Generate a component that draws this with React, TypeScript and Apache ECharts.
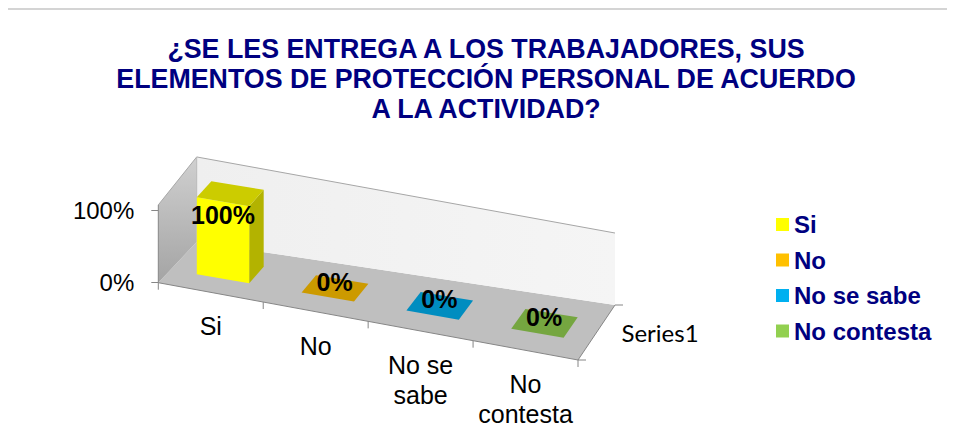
import React, { useEffect, useRef } from 'react';
import * as echarts from 'echarts';

const categories = ['Si', 'No', 'No se sabe', 'No contesta'];
const values = [1, 0, 0, 0];
const colors = ['#FFFF00', '#FFC000', '#00B0F0', '#92D050'];
const depthLabel = 'Series1';
const titleText =
  '¿SE LES ENTREGA A LOS TRABAJADORES, SUS\nELEMENTOS DE PROTECCIÓN PERSONAL DE ACUERDO\nA LA ACTIVIDAD?';
const yMin = 0;
const yMax = 1;
const yInterval = 1;

const FONT = 'Arial, "Liberation Sans", sans-serif';

// oblique / perspective-like projection constants (pixels)
const DXL = 38.4;
const DXR = 37;
const DYL = 40.7;
const DYR = 55;
const SLOPE = 77.3;
const WALL_FL = 1.07;
const WALL_BL = 1.17;
const WALL_BR = 0.99;
const BAR_K = 1.06;
const T0 = 0.32;
const T1 = 0.7;

function proj(cs: any, u: number, t: number, h: number): number[] {
  const x = cs.x + u * cs.width + t * (DXL + (DXR - DXL) * u);
  const y = cs.y + cs.height + u * SLOPE - t * (DYL + (DYR - DYL) * u) - h;
  return [x, y];
}

function shade(hex: string, f: number): string {
  const n = parseInt(hex.slice(1), 16);
  const r = Math.round(((n >> 16) & 255) * f);
  const g = Math.round(((n >> 8) & 255) * f);
  const b = Math.round((n & 255) * f);
  return 'rgb(' + r + ',' + g + ',' + b + ')';
}

function wrapLabel(s: string, max = 6): string {
  const words = s.split(' ');
  const lines: string[] = [];
  let cur = '';
  for (const w of words) {
    if (!cur) cur = w;
    else if ((cur + ' ' + w).length <= max) cur += ' ' + w;
    else {
      lines.push(cur);
      cur = w;
    }
  }
  if (cur) lines.push(cur);
  return lines.join('\n');
}

const AXIS_COLOR = '#868686';

function renderFrame(params: any, api: any) {
  const cs = params.coordSys;
  const H = api.coord([0, 0])[1] - api.coord([0, 1])[1];
  const p = (u: number, t: number, h: number) => proj(cs, u, t, h);
  const children: any[] = [];
  children.push({
    type: 'polygon',
    shape: { points: [p(0, 0, 0), p(1, 0, 0), p(1, 1, 0), p(0, 1, 0)] },
    style: { fill: '#bfbfbf', stroke: null },
  });
  children.push({
    type: 'polygon',
    shape: { points: [p(0, 0, 0), p(0, 0, WALL_FL * H), p(0, 1, WALL_BL * H), p(0, 1, 0)] },
    style: {
      fill: new echarts.graphic.LinearGradient(0, 0, 0, 1, [
        { offset: 0, color: '#d0d0d0' },
        { offset: 1, color: '#a4a4a4' },
      ]),
      stroke: null,
    },
  });
  children.push({
    type: 'polygon',
    shape: { points: [p(0, 1, 0), p(0, 1, WALL_BL * H), p(1, 1, WALL_BR * H), p(1, 1, 0)] },
    style: {
      fill: new echarts.graphic.LinearGradient(0, 0, 1, 0, [
        { offset: 0, color: '#efefef' },
        { offset: 1, color: '#f5f5f5' },
      ]),
      stroke: null,
    },
  });
  const line = (a: number[], b: number[], color: string) => ({
    type: 'line',
    shape: { x1: a[0], y1: a[1], x2: b[0], y2: b[1] },
    style: { stroke: color, lineWidth: 1 },
  });
  children.push(line(p(0, 0, WALL_FL * H), p(0, 1, WALL_BL * H), '#a6a6a6'));
  children.push(line(p(0, 1, WALL_BL * H), p(1, 1, WALL_BR * H), '#a6a6a6'));
  children.push(line(p(0, 1, 0), p(0, 1, WALL_BL * H), '#b8b8b8'));
  children.push(line(p(0, 0, 0), p(0, 0, WALL_FL * H), AXIS_COLOR));
  children.push(line(p(0, 0, 0), p(1, 0, 0), AXIS_COLOR));
  children.push(line(p(1, 0, 0), p(1, 1, 0), AXIS_COLOR));
  // category ticks
  for (let k = 0; k <= categories.length; k++) {
    const a = p(k / categories.length, 0, 0);
    children.push(line(a, [a[0], a[1] + 7], AXIS_COLOR));
  }
  // depth ticks
  [0, 1].forEach((t) => {
    const a = p(1, t, 0);
    children.push(line(a, [a[0] + 8, a[1]], AXIS_COLOR));
  });
  // category labels
  categories.forEach((c, i) => {
    const cx = api.coord([i, 0])[0];
    const u = (cx - cs.x) / cs.width;
    const a = p(u, 0, 0);
    children.push({
      type: 'text',
      x: a[0],
      y: a[1] + 19,
      style: {
        text: wrapLabel(c),
        fill: '#000',
        fontSize: 25,
        fontFamily: FONT,
        align: 'center',
        verticalAlign: 'top',
        lineHeight: 30,
      },
    });
  });
  // depth axis label
  const d0 = p(1, 0, 0);
  const d1 = p(1, 1, 0);
  children.push({
    type: 'text',
    x: (d0[0] + d1[0]) / 2 + 25,
    y: (d0[1] + d1[1]) / 2,
    style: {
      text: depthLabel,
      fill: '#000',
      fontSize: 24,
      fontFamily: 'Lato, "Open Sans", sans-serif',
      align: 'left',
      verticalAlign: 'middle',
    },
  });
  return { type: 'group', children };
}

function makeBarRender(color: string) {
  return function (params: any, api: any) {
    const cs = params.coordSys;
    const idx = api.value(0);
    const v = api.value(1);
    const y0 = api.coord([idx, 0])[1];
    const h = (y0 - api.coord([idx, v])[1]) * BAR_K;
    const cx = api.coord([idx, 0])[0];
    const bw = api.size([1, 0])[0];
    const u0 = (cx - 0.25 * bw - cs.x) / cs.width;
    const u1 = (cx + 0.25 * bw - cs.x) / cs.width;
    const uc = (u0 + u1) / 2;
    const p = (u: number, t: number, hh: number) => proj(cs, u, t, hh);
    const children: any[] = [];
    if (h > 0.5) {
      children.push({
        type: 'polygon',
        shape: { points: [p(u1, T0, 0), p(u1, T1, 0), p(u1, T1, h), p(u1, T0, h)] },
        style: { fill: shade(color, 0.7) },
      });
      children.push({
        type: 'polygon',
        shape: { points: [p(u0, T0, 0), p(u1, T0, 0), p(u1, T0, h), p(u0, T0, h)] },
        style: { fill: color },
      });
    }
    children.push({
      type: 'polygon',
      shape: { points: [p(u0, T0, h), p(u1, T0, h), p(u1, T1, h), p(u0, T1, h)] },
      style: { fill: shade(color, 0.8) },
    });
    const lp = h > 0.5 ? p(uc, T0, h) : p(uc, 0.5, 0);
    children.push({
      type: 'text',
      x: lp[0],
      y: h > 0.5 ? lp[1] + 13 : lp[1] - 7,
      style: {
        text: Math.round(v * 100) + '%',
        fill: '#000',
        fontSize: 25,
        fontWeight: 'bold',
        fontFamily: FONT,
        align: 'center',
        verticalAlign: 'middle',
      },
    });
    return { type: 'group', children };
  };
}

export default function App() {
  const ref = useRef<HTMLDivElement>(null);
  useEffect(() => {
    if (!ref.current) return;
    const chart = echarts.init(ref.current, null, { renderer: 'svg' });
    const series: any[] = [
      {
        type: 'custom',
        name: '__frame',
        data: [[0, 0]],
        renderItem: renderFrame,
        z: 1,
        silent: true,
        clip: false,
      },
    ];
    categories.forEach((c, i) => {
      series.push({
        type: 'custom',
        name: c,
        data: [[i, values[i]]],
        itemStyle: { color: colors[i] },
        renderItem: makeBarRender(colors[i]),
        z: 2,
        silent: true,
        clip: false,
      });
    });
    chart.setOption({
      animation: false,
      graphic: [
        {
          type: 'rect',
          shape: { x: 7, y: 9, width: 1000, height: 1000 },
          style: { fill: 'none', stroke: '#d4d4d4', lineWidth: 2 },
          silent: true,
        },
        {
          type: 'text',
          x: 486,
          y: 34,
          style: {
            text: titleText,
            fill: '#000080',
            fontSize: 26.8,
            fontWeight: 'bold',
            fontFamily: FONT,
            align: 'center',
            verticalAlign: 'top',
            lineHeight: 30,
          },
          silent: true,
        },
      ],
      grid: {
        left: 158.3,
        top: 210,
        width: 419.7,
        height: 72.7,
        containLabel: false,
        outerBoundsMode: 'none',
      },
      xAxis: {
        type: 'category',
        data: categories,
        show: false,
      },
      yAxis: {
        type: 'value',
        min: yMin,
        max: yMax,
        interval: yInterval,
        axisLine: { show: false },
        axisTick: { show: true, length: 7, lineStyle: { color: AXIS_COLOR } },
        splitLine: { show: false },
        axisLabel: {
          margin: 24,
          fontSize: 24,
          color: '#000',
          fontFamily: FONT,
          formatter: (v: number) => Math.round(v * 100) + '%',
        },
      },
      legend: {
        orient: 'vertical',
        left: 776,
        top: 212.5,
        padding: 0,
        itemWidth: 13,
        itemHeight: 13,
        itemGap: 11.5,
        icon: 'rect',
        selectedMode: false,
        data: categories,
        textStyle: {
          fontSize: 24,
          fontWeight: 'bold',
          color: '#000080',
          fontFamily: FONT,
          lineHeight: 24,
        },
      },
      series,
    });
    return () => chart.dispose();
  }, []);
  return (
    <div
      ref={ref}
      style={{ width: 955, height: 448, margin: '-8px 0 0 -8px' }}
    />
  );
}
